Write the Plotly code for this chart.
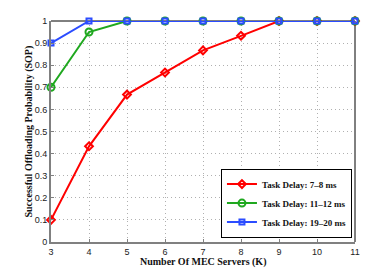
import plotly.graph_objects as go

servers = [3, 4, 5, 6, 7, 8, 9, 10, 11]
sop_7_8 = [0.1, 0.433, 0.667, 0.767, 0.867, 0.933, 1.0, 1.0, 1.0]
sop_11_12 = [0.7, 0.95, 1.0, 1.0, 1.0, 1.0, 1.0, 1.0, 1.0]
sop_19_20 = [0.9, 1.0, 1.0, 1.0, 1.0, 1.0, 1.0, 1.0, 1.0]
names = ["Task Delay: 7\u20138 ms", "Task Delay: 11\u201312 ms", "Task Delay: 19\u201320 ms"]
y_ticks = [0, 0.1, 0.2, 0.3, 0.4, 0.5, 0.6, 0.7, 0.8, 0.9, 1]
y_labels = ["0", "0.1", "0.2", "0.3", "0.4", "0.5", "0.6", "0.7", "0.8", "0.9", "1"]
x_title = "Number Of MEC Servers (K)"
y_title = "Successful Offloading Probability (SOP)"

fig = go.Figure()
fig.add_trace(go.Scatter(x=servers, y=sop_7_8, name="<b>" + names[0] + "</b>", mode="lines+markers",
                         cliponaxis=False,
                         line=dict(color="#ff0000", width=2),
                         marker=dict(symbol="diamond-open", size=6, color="#ff0000", line=dict(width=2))))
fig.add_trace(go.Scatter(x=servers, y=sop_11_12, name="<b>" + names[1] + "</b>", mode="lines+markers",
                         cliponaxis=False,
                         line=dict(color="#1fa81f", width=2),
                         marker=dict(symbol="circle-open", size=7, color="#1fa81f", line=dict(width=2))))
fig.add_trace(go.Scatter(x=servers, y=sop_19_20, name="<b>" + names[2] + "</b>", mode="lines+markers",
                         cliponaxis=False,
                         line=dict(color="#2b4cff", width=2),
                         marker=dict(symbol="square-open", size=5, color="#2b4cff", line=dict(width=2))))

axis_common = dict(showgrid=True, gridcolor="#b0b0b0", griddash="1px,3px", gridwidth=1,
                   zeroline=False, showline=True, linecolor="#808080", linewidth=2,
                   mirror=False, ticks="inside", ticklen=3, tickcolor="#808080",
                   automargin=False,
                   tickfont=dict(family="Liberation Sans, Arial", size=9, color="#222222"))

fig.update_xaxes(range=[3, 11], tickvals=servers, ticktext=[str(s) for s in servers],
                 **axis_common)
fig.update_yaxes(range=[0, 1], tickvals=y_ticks, ticktext=y_labels,
                 **axis_common)

fig.add_annotation(text="<b>" + x_title + "</b>", xref="x domain", yref="y domain",
                   x=0.5, y=0, xanchor="center", yanchor="top", yshift=-12, showarrow=False,
                   font=dict(family="Liberation Serif, Times New Roman", size=10, color="#111111"))
fig.add_annotation(text="<b>" + y_title + "</b>", xref="x domain", yref="y domain",
                   x=0, y=0.5, xanchor="right", yanchor="middle", xshift=-15, textangle=-90,
                   showarrow=False,
                   font=dict(family="Liberation Serif, Times New Roman", size=10, color="#111111"))

# top and right borders in black (drawn beneath the data lines)
fig.add_shape(type="line", xref="x domain", yref="y domain", x0=0, x1=1, y0=1, y1=1,
              line=dict(color="black", width=1), layer="below")
fig.add_shape(type="line", xref="x domain", yref="y domain", x0=1, x1=1, y0=0, y1=1,
              line=dict(color="black", width=1), layer="below")

fig.update_layout(
    template="none",
    width=392, height=273,
    margin=dict(l=51, r=37, t=21, b=31, autoexpand=False),
    paper_bgcolor="white", plot_bgcolor="white",
    legend=dict(x=0.99, y=0.02, xanchor="right", yanchor="bottom",
                bgcolor="white", bordercolor="black", borderwidth=1,
                font=dict(family="Liberation Serif, Times New Roman", size=9, color="#111111"),
                itemwidth=30, tracegroupgap=0),
    showlegend=True,
)

fig.write_html("out.html", config={"displayModeBar": False},
               post_script="document.body.style.margin='0px';")
